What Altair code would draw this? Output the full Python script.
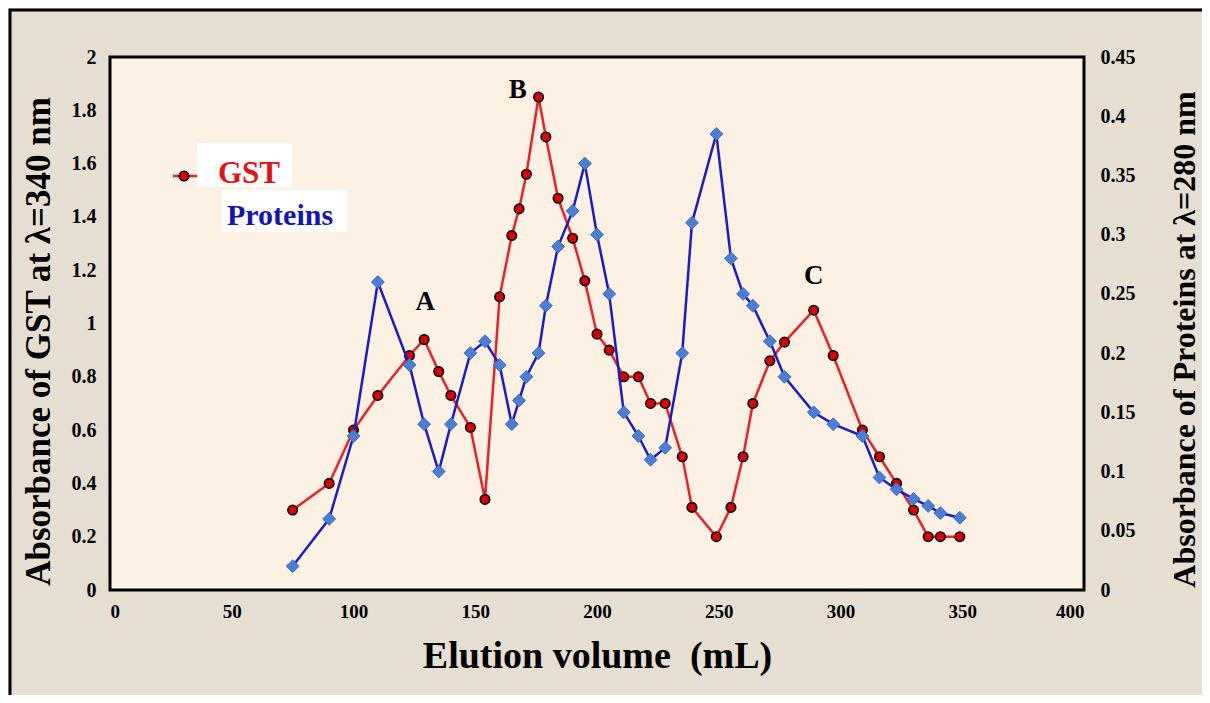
import altair as alt
import pandas as pd

# ---------------- data ----------------
volume = [75, 90, 100, 110, 123, 129, 135, 140, 148, 154,
          160, 165, 168, 171, 176, 179, 184, 190, 195, 200,
          205, 211, 217, 222, 228, 235, 239, 249, 255, 260,
          264, 271, 277, 289, 297, 309, 316, 323, 330, 336,
          341, 349]
gst = [0.30, 0.40, 0.60, 0.73, 0.88, 0.94, 0.82, 0.73, 0.61, 0.34,
       1.10, 1.33, 1.43, 1.56, 1.85, 1.70, 1.47, 1.32, 1.16, 0.96,
       0.90, 0.80, 0.80, 0.70, 0.70, 0.50, 0.31, 0.20, 0.31, 0.50,
       0.70, 0.86, 0.93, 1.05, 0.88, 0.60, 0.50, 0.40, 0.30, 0.20,
       0.20, 0.20]
proteins = [0.02, 0.06, 0.13, 0.26, 0.19, 0.14, 0.10, 0.14, 0.20, 0.21,
            0.19, 0.14, 0.16, 0.18, 0.20, 0.24, 0.29, 0.32, 0.36, 0.30,
            0.25, 0.15, 0.13, 0.11, 0.12, 0.20, 0.31, 0.385, 0.28, 0.25,
            0.24, 0.21, 0.18, 0.15, 0.14, 0.13, 0.095, 0.085, 0.077, 0.071,
            0.065, 0.061]

peak_labels = ["A", "B", "C"]
peak_x = [129.5, 167.5, 289]
peak_y = [1.08, 1.876, 1.18]

x_ticks = [0, 50, 100, 150, 200, 250, 300, 350, 400]
gst_ticks = [0, 0.2, 0.4, 0.6, 0.8, 1.0, 1.2, 1.4, 1.6, 1.8, 2.0]
prot_ticks = [0, 0.05, 0.1, 0.15, 0.2, 0.25, 0.3, 0.35, 0.4, 0.45]

df = pd.DataFrame({"volume": volume, "gst": gst, "proteins": proteins})
peaks = pd.DataFrame({"label": peak_labels, "volume": peak_x, "gst": peak_y})
one = pd.DataFrame({"k": [0]})

FONT = "Liberation Serif"
W, H = 974, 533
LBL = "format(datum.value, '.2~f')"

x_enc = alt.X(
    "volume:Q",
    scale=alt.Scale(domain=[0, 400], nice=False, zero=False),
    axis=alt.Axis(
        values=x_ticks, format="d", title="Elution volume\u00a0\u00a0(mL)",
        grid=False, domain=False, ticks=False, labelPadding=12, labelFont=FONT,
        labelFontSize=19, labelFontWeight="bold", labelColor="black",
        titleFont=FONT, titleFontSize=38, titleFontWeight="bold",
        titleColor="black", titlePadding=16,
    ),
)

y_gst = alt.Y(
    "gst:Q",
    scale=alt.Scale(domain=[0, 2], nice=False),
    axis=alt.Axis(
        values=gst_ticks, labelExpr=LBL, title="Absorbance of GST at λ=340 nm",
        grid=False, domain=False, ticks=False, labelPadding=14, labelFont=FONT,
        labelFontSize=20, labelFontWeight="bold", labelColor="black",
        titleFont=FONT, titleFontSize=35, titleFontWeight="bold",
        titleColor="black", titleX=-72, titleY=284, titleAngle=270,
        titleBaseline="middle", titleAlign="center",
    ),
)

y_prot = alt.Y(
    "proteins:Q",
    scale=alt.Scale(domain=[0, 0.45], nice=False),
    axis=alt.Axis(
        orient="right", values=prot_ticks, labelExpr=LBL,
        title="Absorbance of Proteins at λ=280 nm", grid=False, domain=False,
        ticks=False, labelPadding=16, labelFont=FONT, labelFontSize=20,
        labelFontWeight="bold", labelColor="black", titleFont=FONT,
        titleFontSize=32, titleFontWeight="bold", titleColor="black",
        titleX=100, titleY=282, titleAngle=270, titleBaseline="middle",
        titleAlign="center",
    ),
)

base = alt.Chart(df)

gst_line = base.mark_line(color="#ec2026", strokeWidth=2.5).encode(x=x_enc, y=y_gst)
gst_pts = base.mark_point(
    shape="circle", filled=True, fill="#d90000", stroke="black",
    strokeWidth=1.6, size=90, opacity=1,
).encode(x="volume:Q", y="gst:Q")

peak_text = alt.Chart(peaks).mark_text(
    font=FONT, fontSize=27, fontWeight="bold", color="black", baseline="middle"
).encode(x="volume:Q", y="gst:Q", text="label:N")

# custom legend
leg_box1 = alt.Chart(one).mark_rect(color="white").encode(
    x=alt.value(87), x2=alt.value(182), y=alt.value(86), y2=alt.value(130))
leg_box2 = alt.Chart(one).mark_rect(color="white").encode(
    x=alt.value(112), x2=alt.value(237), y=alt.value(133), y2=alt.value(175))
leg_line = alt.Chart(one).mark_rule(color="#ec2026", strokeWidth=2.5).encode(
    x=alt.value(63), x2=alt.value(87), y=alt.value(119))
leg_dot = alt.Chart(one).mark_point(
    shape="circle", filled=True, fill="#d90000", stroke="black",
    strokeWidth=1.6, size=90, opacity=1,
).encode(x=alt.value(74), y=alt.value(119))
leg_gst = alt.Chart(one).mark_text(
    text="GST", font=FONT, fontSize=31, fontWeight="bold", color="#e01414",
    align="left", baseline="alphabetic",
).encode(x=alt.value(108), y=alt.value(126))
leg_prot = alt.Chart(one).mark_text(
    text="Proteins", font=FONT, fontSize=30, fontWeight="bold", color="#1414b4",
    align="left", baseline="alphabetic",
).encode(x=alt.value(117), y=alt.value(168))

frame = alt.Chart(one).mark_rect(
    fillOpacity=0, stroke="black", strokeWidth=3
).encode(x=alt.value(-100), x2=alt.value(1200), y=alt.value(-47), y2=alt.value(800))

left = alt.layer(frame, leg_box1, leg_box2, gst_line, gst_pts, peak_text,
                 leg_line, leg_dot, leg_gst, leg_prot)

prot_line = base.mark_line(color="#1c1cc4", strokeWidth=2.5).encode(x="volume:Q", y=y_prot)
prot_pts = base.mark_point(
    shape="diamond", filled=True, fill="#4b7fd6", stroke="#3a6cc4",
    strokeWidth=1, size=165, opacity=1,
).encode(x="volume:Q", y="proteins:Q")

right = alt.layer(prot_line, prot_pts)

chart = (
    alt.layer(left, right)
    .resolve_scale(y="independent")
    .properties(
        width=W, height=H,
        autosize=alt.AutoSizeParams(type="none"),
        padding={"left": 102, "top": 49, "right": 118, "bottom": 105},
        background="#e6ded1",
    )
    .configure_view(fill="#fdf1e4", stroke="black", strokeWidth=3)
)

chart.save("out.html", embed_options={"renderer": "svg", "actions": False})
